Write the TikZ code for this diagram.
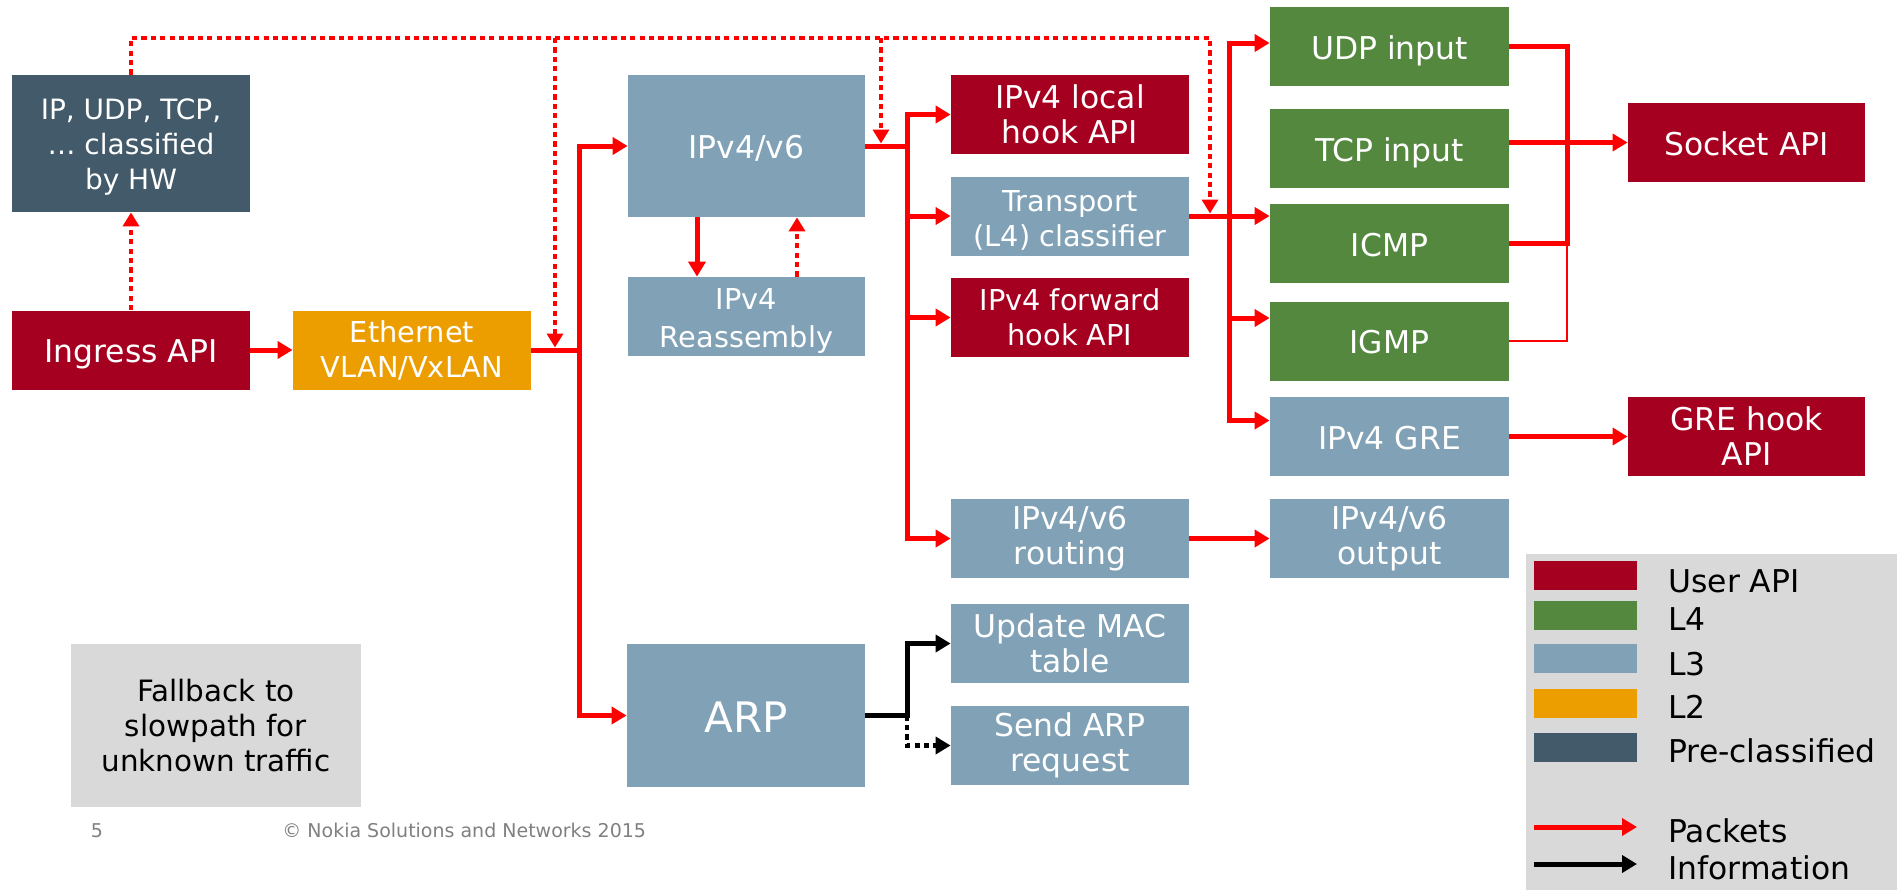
\documentclass[tikz,border=0pt]{standalone}
\usepackage{fontspec}
\setmainfont{DejaVu Sans}
\usetikzlibrary{arrows.meta,calc}
\definecolor{cuser}{RGB}{166,0,33}
\definecolor{cl4}{RGB}{84,136,62}
\definecolor{cl3}{RGB}{128,161,182}
\definecolor{cl2}{RGB}{236,158,0}
\definecolor{cpre}{RGB}{66,90,105}
\definecolor{cgray}{RGB}{217,217,217}
\definecolor{cfoot}{RGB}{128,128,128}
\newcommand\fsz[1]{\fontsize{#1}{17.5}\selectfont}
\begin{document}
\begin{tikzpicture}[x=0.5pt,y=-0.5pt,
  box/.style={rectangle, inner sep=0pt, minimum width=119pt, minimum height=39.5pt, text=white, align=center, font=\fsz{15.7}},
  one/.style={text height=12.5pt, text depth=0pt},
  sw/.style={rectangle, inner sep=0pt, minimum width=51.5pt, minimum height=14.5pt},
  legtext/.style={anchor=base west, inner sep=0pt, font=\fsz{15.7}},
  pk/.style={draw=red, line width=2.5pt, -{Triangle[length=7.5pt,width=8.5pt]}},
  pline/.style={draw=red, line width=2.5pt},
  dotr/.style={draw=red, line width=2.3pt, dash pattern=on 2.6pt off 2.1pt, -{Triangle[length=7pt,width=8pt]}},
  info/.style={draw=black, line width=2.5pt, -{Triangle[length=7.5pt,width=8.5pt]}},
  infodot/.style={draw=black, line width=2.3pt, dash pattern=on 2.6pt off 2.1pt, -{Triangle[length=7.5pt,width=8.5pt]}},
]
\useasboundingbox (0,0) rectangle (1897,890);

% nodes
\node[box, fill=cpre, minimum height=68.5pt, font=\fsz{14}, text height=45.5pt, text depth=0pt] (pre) at (131,143.5) {IP, UDP, TCP,\\… classified\\by HW};
\node[box, one, fill=cuser] (ingress) at (131,350) {Ingress API};
\node[box, fill=cl2, font=\fsz{14.4}] (eth) at (412,350) {Ethernet\\VLAN/VxLAN};
\node[box, one, fill=cl3, minimum width=118.5pt, minimum height=71pt, text height=12pt] (ipv) at (746.5,146) {IPv4/v6};
\node[box, fill=cl3, minimum width=118.5pt, font={\fontsize{14.4}{19}\selectfont}, text height=31pt, text depth=0pt] (reas) at (746.5,316.5) {IPv4\\Reassembly};
\node[box, fill=cuser] (local) at (1070,114.5) {IPv4 local\\hook API};
\node[box, fill=cl3, font=\fsz{14.4}, text height=30pt, text depth=0pt] (trans) at (1070,216) {Transport\\(L4) classifier};
\node[box, fill=cuser, font=\fsz{14.4}] (fwd) at (1070,317.5) {IPv4 forward\\hook API};
\node[box, fill=cl3] (routing) at (1070,538.5) {IPv4/v6\\routing};
\node[box, fill=cl3] (mac) at (1070,643.5) {Update MAC\\table};
\node[box, fill=cl3] (sendarp) at (1070,745.5) {Send ARP\\request};
\node[box, fill=cl3, minimum height=71.5pt, font=\fsz{21}, text height=16.5pt, text depth=0pt] (arp) at (746,715.5) {ARP};
\node[box, one, fill=cl4, minimum width=119.5pt] (udp) at (1389.5,46.5) {UDP input};
\node[box, one, fill=cl4, minimum width=119.5pt] (tcp) at (1389.5,148.5) {TCP input};
\node[box, one, fill=cl4, minimum width=119.5pt] (icmp) at (1389.5,243.5) {ICMP};
\node[box, one, fill=cl4, minimum width=119.5pt] (igmp) at (1389.5,341) {IGMP};
\node[box, one, fill=cl3, minimum width=119.5pt] (gre) at (1389.5,436.5) {IPv4 GRE};
\node[box, fill=cl3, minimum width=119.5pt] (out) at (1389.5,538.5) {IPv4/v6\\output};
\node[box, one, fill=cuser, minimum width=118.5pt] (sock) at (1746.5,142.5) {Socket API};
\node[box, fill=cuser, minimum width=118.5pt] (grehook) at (1746.5,436.5) {GRE hook\\API};
\node[rectangle, inner sep=0pt, fill=cgray, minimum width=145pt, minimum height=81.5pt, align=center, font=\fsz{14.7}] (fb) at (216,725.5) {Fallback to\\slowpath for\\unknown traffic};

% footer
\node[anchor=base, inner sep=0pt, text=cfoot, font=\fsz{9.5}] (pg) at (97,837) {5};
\node[anchor=base west, inner sep=0pt, text=cfoot, font=\fsz{9.5}] (copy) at (282,837) {© Nokia Solutions and Networks 2015};

% bus coordinates
\coordinate (b1) at (579,0);
\coordinate (b2) at (907,0);
\coordinate (b3) at (1229,0);
\coordinate (b4) at (1567,0);
\coordinate (rx1) at (697,0);
\coordinate (rx2) at (797,0);
\coordinate (d1) at (555,38);
\coordinate (d2) at (881,38);
\coordinate (d3) at (1210,38);

% dotted red (pre-classified paths)
\draw[dotr] (ingress.north) -- (pre.south);
\draw[dotr] (pre.north) |- (d3) -- ($(d3 |- trans.east)+(0,-2.5)$);
\draw[dotr] (d1) -- ($(d1 |- eth.east)+(0,-2.5)$);
\draw[dotr] (d2) -- ($(d2 |- ipv.east)+(0,-2.5)$);

% packets
\draw[pk] (ingress.east) -- (eth.west);
\draw[pk] (eth.east) -- (eth.east -| b1) -- (b1 |- ipv.west) -- (ipv.west);
\draw[pk] (eth.east -| b1) |- (arp.west);

\draw[pk] (ipv.east) -- (ipv.east -| b2) |- (local.west);
\draw[pk] (ipv.east -| b2) |- (trans.west);
\draw[pk] (ipv.east -| b2) |- (fwd.west);
\draw[pk] (ipv.east -| b2) |- (routing.west);

\draw[pk] (rx1 |- ipv.south) -- (rx1 |- reas.north);
\draw[dotr] (rx2 |- reas.north) -- (rx2 |- ipv.south);

\draw[pk] (trans.east) -- (icmp.west |- trans.east);
\draw[pk] (trans.east -| b3) |- ([yshift=1.75pt]udp.west);
\draw[pk] (trans.east -| b3) |- ([yshift=11.5pt]igmp.west);
\draw[pk] (trans.east -| b3) |- ([yshift=8pt]gre.west);

\draw[pline] (udp.east) -- (udp.east -| b4) -- (icmp.east -| b4) -- (icmp.east);
\draw[pk] (tcp.east |- sock.west) -- (sock.west);
\draw[draw=red, line width=0.6pt] (igmp.east) -| (icmp.east -| b4);

\draw[pk] (gre.east) -- (grehook.west);
\draw[pk] (routing.east) -- (out.west);

% information
\draw[info] (arp.east) -- (arp.east -| b2) |- (mac.west);
\draw[infodot] (arp.east -| b2) |- (sendarp.west);

% legend
\node[rectangle, fill=cgray, inner sep=0pt, minimum width=185.5pt, minimum height=168pt, anchor=north west] (leg) at (1526,554) {};
\node[sw, fill=cuser] (swU) at (1585.5,575.5) {};
\node[sw, fill=cl4] (sw4) at (1585.5,615.5) {};
\node[sw, fill=cl3] (sw3) at (1585.5,658.5) {};
\node[sw, fill=cl2] (sw2) at (1585.5,703) {};
\node[sw, fill=cpre] (swP) at (1585.5,747.5) {};
\node[legtext] (tU) at (1668,592) {User API};
\node[legtext] (t4) at (1668,630) {L4};
\node[legtext] (t3) at (1668,675) {L3};
\node[legtext] (t2) at (1668,718) {L2};
\node[legtext] (tP) at (1668,762) {Pre-classified};
\node[legtext] (tK) at (1668,842) {Packets};
\node[legtext] (tI) at (1668,879) {Information};
\coordinate (lk1) at (1534,827);
\coordinate (lk2) at (1637,827);
\coordinate (li1) at (1534,864);
\coordinate (li2) at (1637,864);
\draw[pk] (lk1) -- (lk2);
\draw[info] (li1) -- (li2);
\end{tikzpicture}
\end{document}
